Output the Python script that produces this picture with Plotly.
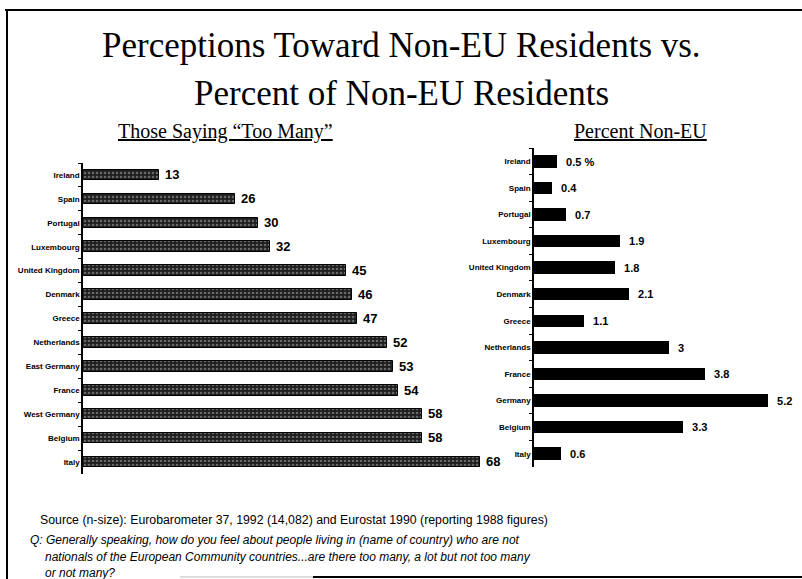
import plotly.graph_objects as go

W, H = 802, 579

# ---- data ----
left_countries = ["Ireland", "Spain", "Portugal", "Luxembourg", "United Kingdom", "Denmark",
                  "Greece", "Netherlands", "East Germany", "France", "West Germany", "Belgium", "Italy"]
left_values = [13, 26, 30, 32, 45, 46, 47, 52, 53, 54, 58, 58, 68]

right_countries = ["Ireland", "Spain", "Portugal", "Luxembourg", "United Kingdom", "Denmark",
                   "Greece", "Netherlands", "France", "Germany", "Belgium", "Italy"]
right_values = [0.5, 0.4, 0.7, 1.9, 1.8, 2.1, 1.1, 3, 3.8, 5.2, 3.3, 0.6]

title_lines = ["Perceptions Toward Non-EU Residents vs.", "Percent of Non-EU Residents"]
left_subtitle = "Those Saying “Too Many”"
right_subtitle = "Percent Non-EU"
source_text = "Source (n-size): Eurobarometer 37, 1992 (14,082) and Eurostat 1990 (reporting 1988 figures)"
question_lines = [
    "Q: Generally speaking, how do you feel about people living in (name of country) who are not",
    "nationals of the European Community countries...are there too many, a lot but not too many",
    "or not many?",
]


def px_x(x):
    return x / W


def px_y(y):
    return 1 - y / H


left_text = [" " + f"{v:g}" for v in left_values]
right_text = ["  " + f"{v:g}" for v in right_values]
right_text[0] = right_text[0] + " %"

fig = go.Figure()

fig.add_trace(go.Bar(
    x=left_values, y=left_countries, orientation="h",
    xaxis="x", yaxis="y",
    width=0.44,
    marker=dict(color="#1e1e1e", line=dict(color="#000000", width=1),
                pattern=dict(shape=".", fgcolor="#b0b0b0", bgcolor="#1e1e1e", size=4, solidity=0.35)),
    text=left_text, textposition="outside", cliponaxis=False, constraintext="none",
    textfont=dict(family="Liberation Sans", size=13, color="#000000", weight="bold"),
    showlegend=False, hoverinfo="skip",
))

fig.add_trace(go.Bar(
    x=right_values, y=right_countries, orientation="h",
    xaxis="x2", yaxis="y2",
    width=0.47,
    marker=dict(color="#000000", line=dict(color="#000000", width=0)),
    text=right_text, textposition="outside", cliponaxis=False, constraintext="none",
    textfont=dict(family="Liberation Sans", size=11, color="#000000", weight="bold"),
    showlegend=False, hoverinfo="skip",
))

ytick_font = dict(family="Liberation Sans", size=8, color="#000000", weight="bold")

fig.update_layout(
    width=W, height=H,
    margin=dict(l=0, r=0, t=0, b=0),
    paper_bgcolor="white", plot_bgcolor="rgba(0,0,0,0)",
    bargap=0,
    xaxis=dict(domain=[px_x(83), px_x(83 + 70 * 5.84)], range=[0, 70], visible=False, fixedrange=True),
    yaxis=dict(domain=[px_y(474), px_y(163)], range=[12.5, -0.5], type="category",
               categoryorder="array", categoryarray=left_countries,
               showline=True, linecolor="#000000", linewidth=1.5, showgrid=False, zeroline=False,
               ticks="outside", tickson="boundaries", ticklen=3, tickcolor="#000000",
               tickfont=ytick_font, anchor="x"),
    xaxis2=dict(domain=[px_x(534), px_x(534 + 45 * 5.9)], range=[0, 5.9], visible=False,
                anchor="y2", fixedrange=True),
    yaxis2=dict(domain=[px_y(467), px_y(148)], range=[11.5, -0.5], type="category",
                categoryorder="array", categoryarray=right_countries,
                showline=True, linecolor="#000000", linewidth=1.5, showgrid=False, zeroline=False,
                ticks="outside", tickson="boundaries", ticklen=3, tickcolor="#000000",
                tickfont=ytick_font, anchor="x2"),
)

annotations = [
    dict(text=title_lines[0], x=0.5, y=px_y(45), font=dict(family="Liberation Serif", size=35)),
    dict(text=title_lines[1], x=0.5, y=px_y(94), font=dict(family="Liberation Serif", size=35)),
    dict(text="<u>" + left_subtitle + "</u>", x=px_x(225), y=px_y(131),
         font=dict(family="Liberation Serif", size=20)),
    dict(text="<u>" + right_subtitle + "</u>", x=px_x(640), y=px_y(131),
         font=dict(family="Liberation Serif", size=20)),
    dict(text=source_text, x=px_x(38), y=px_y(520), xanchor="left",
         font=dict(family="Liberation Sans", size=12.3)),
    dict(text="<i>" + question_lines[0] + "</i>", x=px_x(28), y=px_y(540), xanchor="left",
         font=dict(family="Liberation Sans", size=12)),
    dict(text="<i>" + question_lines[1] + "</i>", x=px_x(43), y=px_y(557), xanchor="left",
         font=dict(family="Liberation Sans", size=12)),
    dict(text="<i>" + question_lines[2] + "</i>", x=px_x(43), y=px_y(573), xanchor="left",
         font=dict(family="Liberation Sans", size=12)),
]
for a in annotations:
    a.setdefault("xanchor", "center")
    a.update(xref="paper", yref="paper", yanchor="middle", showarrow=False)
    a["font"]["color"] = "#000000"
fig.update_layout(annotations=annotations)

# frame lines of the slide
shapes = [
    dict(type="line", x0=px_x(5), x1=1, y0=px_y(10), y1=px_y(10), line=dict(color="#000000", width=2)),
    dict(type="line", x0=px_x(7), x1=px_x(7), y0=px_y(10), y1=0, line=dict(color="#000000", width=2)),
    dict(type="line", x0=px_x(180), x1=px_x(313), y0=px_y(577), y1=px_y(577), line=dict(color="#bbbbbb", width=1)),
    dict(type="line", x0=px_x(313), x1=1, y0=px_y(577), y1=px_y(577), line=dict(color="#000000", width=2)),
]
for s in shapes:
    s.update(xref="paper", yref="paper")
fig.update_layout(shapes=shapes)

fig.write_html("out.html")
